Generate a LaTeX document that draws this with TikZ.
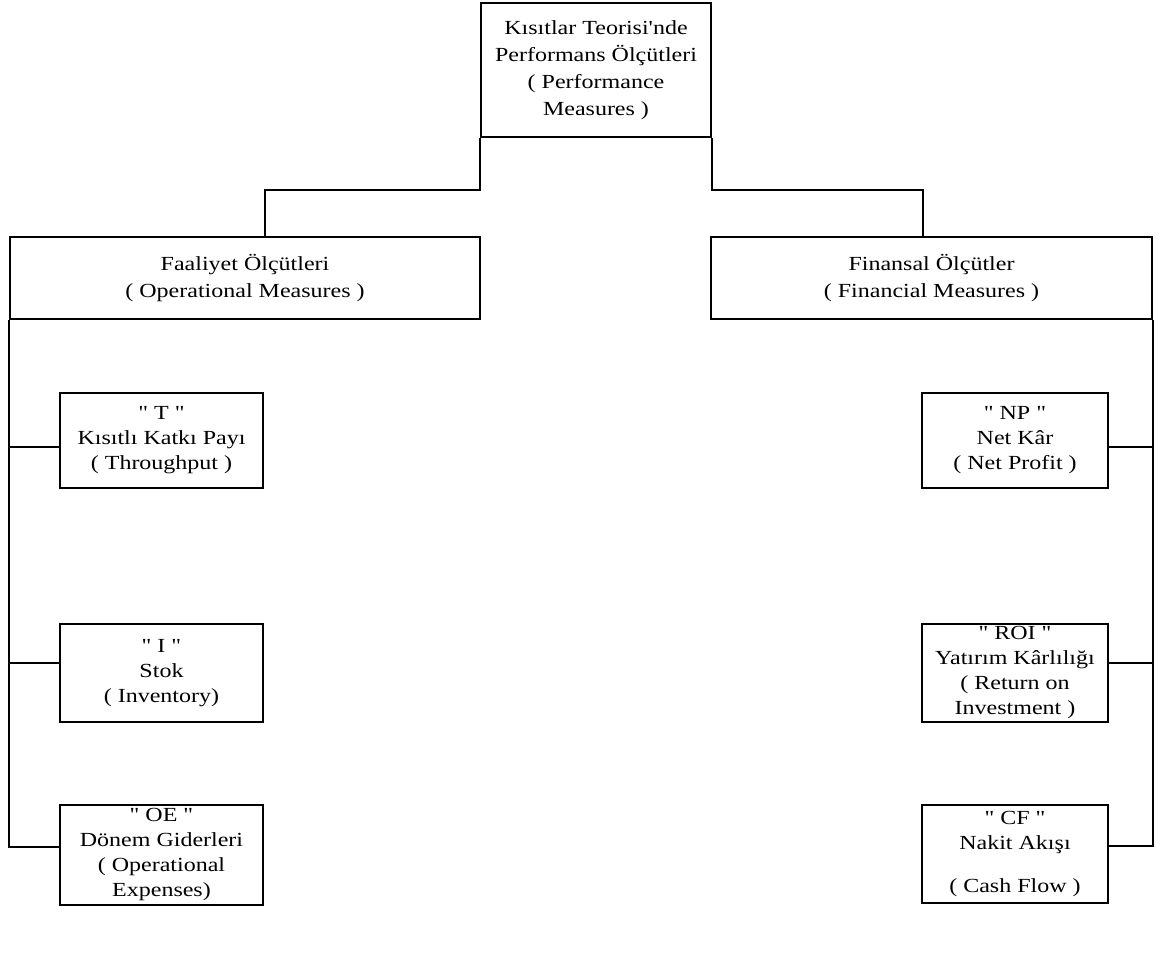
\documentclass[tikz,border=0pt]{standalone}
\usepackage{fontspec}
\setmainfont{Liberation Serif}[FakeStretch=1.2, Ligatures=TeXOff]
\usetikzlibrary{calc}
\begin{document}
\begin{tikzpicture}[x=1pt,y=-1pt,
  box/.style={draw, line width=2pt, rectangle, inner sep=0pt, align=center,
    font=\fontsize{20}{25}\selectfont},
  bigbox/.style={box, font=\fontsize{20}{27}\selectfont},
  wire/.style={line width=2pt}]
\useasboundingbox[fill=white] (0,0) rectangle (1163,965);

% top node
\node[bigbox, minimum width=230pt, minimum height=134pt] (top) at (596,70)
  {Kısıtlar Teorisi'nde\\Performans Ölçütleri\\( Performance\\Measures )};

% second level
\node[bigbox, minimum width=470pt, minimum height=82pt] (fal) at (245,278)
  {Faaliyet Ölçütleri\\( Operational Measures )};
\node[bigbox, minimum width=441pt, minimum height=82pt] (fin) at (931.5,278)
  {Finansal Ölçütler\\( Financial Measures )};

% operational measures
\node[box, minimum width=203pt, minimum height=95pt] (t) at (161.5,440.5)
  {" T "\\Kısıtlı Katkı Payı\\( Throughput )};
\node[box, minimum width=203pt, minimum height=98pt] (i) at (161.5,673)
  {" I "\\Stok\\( Inventory)};
\node[box, minimum width=203pt, minimum height=100pt] (oe) at (161.5,855)
  {" OE "\\Dönem Giderleri\\( Operational\\Expenses)};

% financial measures
\node[box, minimum width=186pt, minimum height=95pt] (np) at (1015,440.5)
  {" NP "\\Net Kâr\\( Net Profit )};
\node[box, minimum width=186pt, minimum height=98pt] (roi) at (1015,673)
  {" ROI "\\Yatırım Kârlılığı\\( Return on\\Investment )};
\node[box, minimum width=186pt, minimum height=98pt] (cf) at (1015,854)
  {" CF "\\Nakit Akışı\\[18pt]( Cash Flow )};

% top-level branches
\draw[wire] (top.south west) -- ++(0,52) -| ([xshift=20pt]fal.north);
\draw[wire] (top.south east) -- ++(0,52) -| ([xshift=-8.5pt]fin.north);

% left spine
\draw[wire] (fal.south west) |- ([yshift=8pt]oe.west);
\draw[wire] ([yshift=-6.5pt]t.west) -- ([yshift=-6.5pt]t.west -| fal.south west);
\draw[wire] ([yshift=10pt]i.west) -- ([yshift=10pt]i.west -| fal.south west);

% right spine
\draw[wire] (fin.south east) |- ([yshift=8pt]cf.east);
\draw[wire] ([yshift=-6.5pt]np.east) -- ([yshift=-6.5pt]np.east -| fin.south east);
\draw[wire] ([yshift=10pt]roi.east) -- ([yshift=10pt]roi.east -| fin.south east);
\end{tikzpicture}
\end{document}
